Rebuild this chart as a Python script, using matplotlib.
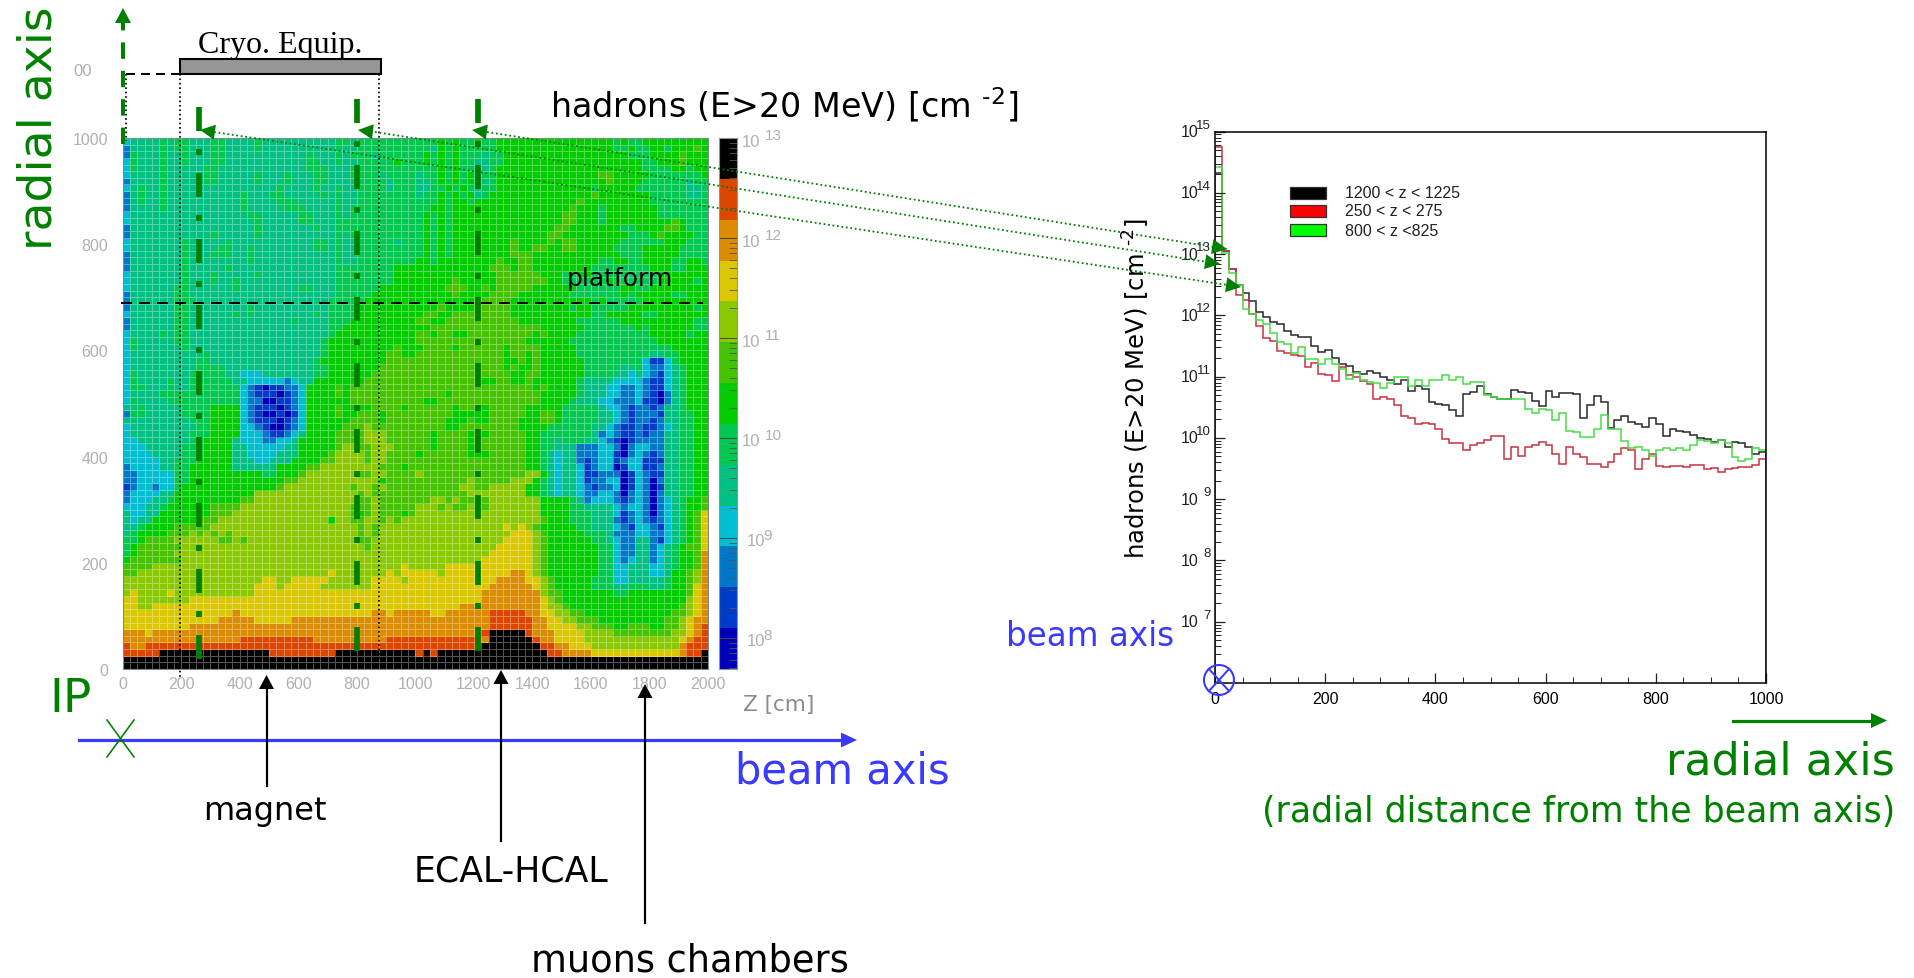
import numpy as np
import matplotlib
matplotlib.use("Agg")
import matplotlib.pyplot as plt
from matplotlib.colors import ListedColormap, BoundaryNorm
from matplotlib.lines import Line2D
from matplotlib.patches import Polygon, Rectangle, Circle
from matplotlib.ticker import FixedLocator, LogLocator, NullFormatter

W, H = 1914, 979
SANS = "Liberation Sans"
HAND = "DejaVu Sans"
GREEN = "#008000"
BLUE = "#3a3aff"
GREY = "#b0b0b0"

# colour bands of the map, lowest flux first (hex digit in the rows below)
band_colors = ["#0000b8", "#003cc8", "#0078c8", "#00bed2", "#00c084", "#00c850",
               "#00cc00", "#46c300", "#8cc800", "#dcc800", "#dc8c00", "#dc4600", "#000000"]

# hadron flux map, top row is r=1000, one digit per 25 cm cell in z
flux_rows = [
    "3444454554 4455444454 4444444445 5455555555 5556565565 5666666666 6666666565 5666666666",
    "2444454554 4455444454 4444444445 4455555555 5546565555 5666666666 6666666556 5566566676",
    "2544454454 4455444444 4444454445 4555455555 5656565554 5566666666 6666666665 5566667666",
    "3544454454 4455444444 4444455445 4455555655 5656565544 5566666666 6666666666 6556667666",
    "3544454444 4554444444 4444455544 4555555555 5556565544 5666666666 6666666666 6555566566",
    "3444454444 4554444454 4454445544 4555545555 4556565645 5666666666 6666677666 6655555556",
    "2444454444 4554444454 4454445544 4455554555 4456565644 5666666666 6666667666 6555555455",
    "3454454444 4444444444 4544445445 4455554555 4455656545 5666666666 6666566666 5555555445",
    "2454454444 4444445444 5544444545 4455555555 4556565645 6666666666 6666766666 6655555445",
    "2454454444 4444445444 4555444445 4455555555 5556566566 6666666666 6676666666 6655555555",
    "2444454444 4444445444 4455544445 4555555555 5566566666 6666666666 6766656666 6665555555",
    "3444444444 4444444554 4444554445 4555555555 5656566666 6666666666 7766656666 6665555555",
    "3444444444 4444444454 4444554445 5555555555 5656566666 6666666666 7766656666 6666676555",
    "2444444444 4444444454 4444445445 5555555555 5656566666 6666666667 7666666655 6666776555",
    "2444444444 4454444454 4444444445 4555555555 5656566666 6666666677 6666666665 5567666655",
    "3444444454 4444544444 4444445545 4455555455 5656566666 6667666676 7766666655 5555666555",
    "3444444454 4445544544 4444445545 4455555555 5656566666 6667667766 7766666555 5666665555",
    "2444444454 4455544544 4444444445 4455555555 5656566666 6667776666 6666666655 5666665555",
    "2444444454 4444444544 4444444445 4455555555 6656666666 6766776666 6666655665 5666655665",
    "2444444454 4444544444 4444444445 5555555666 6666666666 7776776666 6666555555 5566655666",
    "3444444454 4454444454 4444444445 5555555666 6666666666 6777777666 5566555555 5556666666",
    "3444444454 4454454444 4444444445 5555555666 6666676666 6777777766 5555556555 5556666656",
    "3444444554 4444454444 4444554445 5555566666 6666777667 6777776666 6655555566 5566666666",
    "2444444554 4444444444 4444444445 5555666666 6666676666 7777666666 6555555565 6666655666",
    "2444444555 4444444444 4444444455 5556666666 6666666677 7776666666 6666565555 5666666666",
    "2444444554 4444444544 4444444455 5566666666 6667666677 7776666666 6566555556 6666666656",
    "3444444554 4444454544 4444445455 5566666666 6776677777 7776666666 6666556666 6556666666",
    "2444444554 4444444444 4445444455 5666666666 7766777777 7777666666 6655555566 6666666655",
    "2444444554 4444444444 4444444455 6666666666 6677777777 7777777666 6665555555 6566666655",
    "3444454554 4444444444 4444444456 6666666666 7767766777 7777776766 6655555555 5566666566",
    "3544444554 4444444444 4444444566 6666666666 7777777777 7777766666 6555555555 5556666666",
    "3544444454 4444444444 4444444566 6666666766 6777767777 7767777666 6655555555 5555566666",
    "3444444444 4544444444 4444444566 6666667766 7777777777 7767767666 6655555555 5544556666",
    "3444444444 5544444444 4444445666 6666667777 7777777777 7766767666 6665555555 5311356666",
    "3444444444 5555444444 4444445566 6666677777 7777777777 7767667666 6665555544 5322345666",
    "3544444445 5555443334 4444445566 6666777777 7777777777 7776677666 6665555443 4321345666",
    "3544445445 5555544333 3323446666 6667777777 7777777776 6776676666 6654444333 3211345666",
    "3554445445 5555553210 1122366667 6777777777 7777777777 7777776766 6654443322 3211345666",
    "3444455555 5555553211 1012366667 6777777777 7777677777 7777777666 6654443322 3210245666",
    "3544445555 5555553220 0112366666 6777777777 7667777777 7777777666 6544433222 3110245666",
    "4454444455 5566663211 1012366667 6666777767 7777767776 7777766666 5555543321 2212445666",
    "2554444455 5566663210 0101366667 6677767777 7777766666 7777766776 5555544321 2221445566",
    "4444444445 5566663211 1012366666 6777767777 7777666766 7777666776 5555544321 2212445566",
    "3444444444 5566663321 0012366666 7778777777 7777667777 7777666655 5555443211 2112345566",
    "3444444445 5566663332 1123466667 7778887777 7767777676 7777766555 5555423211 2122445566",
    "3344444445 5666643332 2334666667 7778887777 7767777677 7777766554 5554432101 2222445566",
    "3334444455 5666644333 3344666667 8877888777 7767777667 7777766554 4422233202 3322445566",
    "3333444455 5666644333 3444666678 8887887777 6777777666 7777766543 4422233102 3212445566",
    "3333344555 6666644433 4446666778 8887887777 7777777777 7777766543 4421233123 3111445566",
    "2333344556 6666644444 4666677888 8888877767 7777777777 7777766543 4431233013 3112445566",
    "2233333556 6666666665 5666788888 8877887777 8777777777 7777788643 4431122201 3211445566",
    "2233333556 6666666666 6677888888 8888867777 7777777877 7778886543 4431223301 3202445566",
    "1233233566 6666666666 6788888888 8788787777 7777778877 8888866543 4432122301 3201445566",
    "2333344666 6666666688 8888888888 8878777777 7777777888 8888866543 4432233202 3202445566",
    "2333445666 6666667788 8888888888 8877877777 7788787777 8888888666 6542333212 3202345667",
    "3334456666 6677778888 8888888888 8777877777 8887877877 8888888666 6554444323 3202345667",
    "4334466666 6677788888 8888888888 8767877767 8888888878 8888888666 6555444312 3202345679",
    "4344666666 7778888888 8888888868 8778878788 8888888888 8888888766 6555444212 3212345679",
    "4456666777 7788888888 8888888888 8878788888 8888888888 8898987666 6655444321 3321345679",
    "4566667778 7878788888 8888888888 8878788888 8888888888 8889998766 6665554222 3322345679",
    "5567777888 8887787888 8888888888 8877888888 8888888888 8899998766 6666554322 4421345679",
    "5677777788 8888888888 8888888888 8887888888 8888888888 8999998766 6666655322 4423456779",
    "5677777888 8888888888 8888888888 8888888888 8888888888 9999998766 6666655322 442345667a",
    "6777777788 8888888888 8888888888 8888888888 8888888889 9999998766 6666655323 442345667a",
    "7777888888 8888888888 8888888888 8888888898 8888999999 9999998766 6666655334 443345667a",
    "7788888888 8888888888 8888888898 8888889899 9998999999 999aa98766 6666655334 443346678a",
    "8888888888 8888888889 9889999988 8888999989 9999999999 9aaaa99876 6666555334 444456678a",
    "8888888888 8888888899 9899999888 8888999999 9999999999 aaaaaa9876 6666555445 554456679a",
    "8988889888 8888888899 9999999999 9999999999 999999999a aaaaaaa877 6666666556 666666679a",
    "9988888889 9999999999 9999999999 9999999999 999999999a aaaaaaa987 6666666666 666666689a",
    "9988999999 9999999999 9999999999 9999999999 999999aaaa aaaaaaa988 7666666666 666666789a",
    "9999999999 99999a9999 9999999999 9999aa9aaa aa99aaaaaa bbbbbaa998 8776666666 666667789a",
    "9999999999 999aaaaa99 999aaaaaaa aaaaaaaaaa aaaaaaaaaa bbbbbbaa99 8877766666 66667789aa",
    "999999999a aaaaaaaaaa aaaaaaaaaa aaaaaaaaaa aaaaaaaaaa bbbbbbaa99 9988777667 77667789ab",
    "aaa9aaaaaa aaaaaaaaaa aaaaaaaaaa aaaaaaaaaa aaaaaaaaab cccccbaaa9 9998888777 77777889ab",
    "aaaaaaaaaa aaaaaabbbb bbbbbbaaaa aaaaaabbbb bbbbbbbbba ccccccbaa9 9998888888 8888889abb",
    "baabbbbbbb bbbbbbbbbb bbbbbbbbbb bbbbbbbbbb bbbbbbbbbc cccccccbba a999888888 888888abbb",
    "bbbbbccccc cccccccccc bbbbbbbbbc cccccccccc bcbccccccc ccccccccbb aaaa999999 999999abbc",
    "cccccccccc cccccccccc cccccccccc cccccccccc cccccccccc cccccccccc cccccccccc cccccccccc",
    "cccccccccc cccccccccc cccccccccc cccccccccc cccccccccc cccccccccc cccccccccc cccccccccc",
]

# log10 of the flux in each 12.5 cm radial bin
black_log = [14.33, 13.05, 12.75, 12.50, 12.36, 12.24, 12.06, 11.98, 11.89, 11.86,
             11.75, 11.68, 11.64, 11.64, 11.50, 11.41, 11.43, 11.30, 11.20, 11.17,
             11.07, 11.05, 11.10, 11.06, 11.00, 10.95, 10.88, 10.95, 10.76, 10.84,
             10.80, 10.59, 10.56, 10.53, 10.45, 10.36, 10.71, 10.75, 10.85, 10.71,
             10.67, 10.64, 10.63, 10.79, 10.75, 10.74, 10.61, 10.52, 10.76, 10.66,
             10.74, 10.74, 10.71, 10.33, 10.53, 10.68, 10.59, 10.17, 10.29, 10.35,
             10.26, 10.23, 10.18, 10.33, 10.23, 10.03, 10.15, 10.11, 10.10, 10.04,
             10.00, 9.99, 9.93, 9.97, 9.85, 9.93, 9.92, 9.86, 9.74, 9.77]
red_log = [14.75, 13.05, 12.75, 12.33, 12.25, 12.02, 11.83, 11.63, 11.59, 11.42,
           11.38, 11.35, 11.33, 11.16, 11.22, 11.04, 11.03, 10.93, 11.16, 11.02,
           11.00, 10.93, 10.88, 10.64, 10.66, 10.64, 10.53, 10.36, 10.33, 10.22,
           10.25, 10.22, 10.15, 9.99, 9.91, 9.91, 9.81, 9.88, 9.91, 9.96,
           10.03, 10.03, 9.66, 9.86, 9.71, 9.86, 9.89, 9.93, 9.88, 9.74,
           9.58, 9.86, 9.73, 9.69, 9.58, 9.58, 9.53, 9.61, 9.73, 9.84,
           9.80, 9.50, 9.66, 9.74, 9.54, 9.53, 9.54, 9.54, 9.53, 9.56,
           9.56, 9.50, 9.51, 9.44, 9.50, 9.51, 9.53, 9.53, 9.56, 9.65]
green_log = [14.43, 13.02, 12.70, 12.50, 12.10, 12.02, 11.93, 11.86, 11.71, 11.56,
             11.54, 11.38, 11.48, 11.29, 11.29, 11.20, 11.29, 11.20, 11.13, 10.97,
             11.06, 10.95, 10.91, 10.90, 10.82, 10.90, 11.00, 11.00, 10.85, 10.94,
             10.85, 10.94, 10.95, 11.03, 10.95, 10.99, 10.88, 10.91, 10.92, 10.70,
             10.67, 10.64, 10.63, 10.63, 10.63, 10.48, 10.40, 10.48, 10.45, 10.30,
             10.40, 10.11, 10.10, 10.02, 10.02, 10.15, 10.38, 10.15, 10.15, 9.95,
             9.83, 9.85, 9.80, 9.71, 9.80, 9.83, 9.80, 9.84, 9.80, 9.88,
             9.97, 9.95, 9.91, 9.96, 9.91, 9.69, 9.62, 9.66, 9.83, 9.81]

legend_labels = ["1200 < z < 1225", "250 < z < 275", "800 < z <825"]
legend_colors = ["#000000", "#ff0000", "#00ff00"]
z_ticks = list(range(0, 2001, 200))
r_ticks = list(range(0, 1001, 200))
cb_exps = [13, 12, 11, 10, 9, 8]
flux_exps = [15, 14, 13, 12, 11, 10, 9, 8, 7]
radial_ticks = list(range(0, 1001, 200))


def px_axes(left, top, right, bottom, **kw):
    return fig.add_axes([left / W, 1 - bottom / H, (right - left) / W, (bottom - top) / H], **kw)


def arrow_head(tip, tail, length=16, width=15, color=GREEN):
    tip = np.array(tip, float)
    d = tip - np.array(tail, float)
    d = d / np.hypot(*d)
    n = np.array([-d[1], d[0]])
    base = tip - d * length
    ov.add_patch(Polygon([tip, base + n * width / 2, base - n * width / 2], closed=True,
                         fc=color, ec="none", zorder=5))


def px_line(xs, ys, color="k", lw_px=2, **kw):
    ov.add_line(Line2D(xs, ys, color=color, lw=lw_px * 0.72, **kw))


fig = plt.figure(figsize=(W / 100, H / 100), dpi=100, facecolor="white")

# left map
grid = np.array([[int(c, 16) for c in "".join(row.split())] for row in flux_rows])[::-1]
z_edges = np.linspace(0, 2000, grid.shape[1] + 1)
r_edges = np.linspace(0, 1000, grid.shape[0] + 1)
cmap = ListedColormap(band_colors)
norm = BoundaryNorm(np.arange(len(band_colors) + 1) - 0.5, cmap.N)

ax = px_axes(122.7, 139, 708, 670)
ax.pcolormesh(z_edges, r_edges, grid, cmap=cmap, norm=norm, edgecolors=(1, 1, 1, 0.33), linewidth=0.6)
ax.set_xlim(0, 2000)
ax.set_ylim(0, 1000)
ax.set_xticks(z_ticks)
ax.set_yticks(r_ticks)
ax.tick_params(axis="x", length=0, pad=5, labelsize=11.5, labelcolor=GREY)
ax.tick_params(axis="y", length=0, pad=10.5, labelsize=11.5, labelcolor=GREY)
for lab in ax.get_xticklabels() + ax.get_yticklabels():
    lab.set_fontfamily(SANS)
for s in ax.spines.values():
    s.set_color("#808c8c")

# colour bar, each decade is 100 px
cax = px_axes(719, 139, 737, 670)
cb_low = 13 - (670 - 139) / 100
cb_edges = 10 ** np.linspace(cb_low, 13, len(band_colors) + 1)
cax.pcolormesh([0, 1], cb_edges, np.arange(len(band_colors)).reshape(-1, 1), cmap=cmap, norm=norm)
cax.set_yscale("log")
cax.set_ylim(10 ** cb_low, 1e13)
cax.set_xticks([])
cax.yaxis.tick_right()
cax.yaxis.set_major_locator(FixedLocator([10.0 ** e for e in cb_exps]))
cax.yaxis.set_minor_locator(LogLocator(base=10, subs=range(2, 10), numticks=12))
cax.yaxis.set_major_formatter(NullFormatter())
cax.yaxis.set_minor_formatter(NullFormatter())
cax.tick_params(axis="y", which="major", direction="in", length=13, width=0.7, color="#444444")
cax.tick_params(axis="y", which="minor", direction="in", length=6, width=0.6, color="#555555")
for s in cax.spines.values():
    s.set_color("#8c96a0")
for e in cb_exps:
    wide = e > 9
    cax.annotate("10", (1, 10.0 ** e), xycoords=cax.get_yaxis_transform(), xytext=(5 if wide else 10, -3),
                 textcoords="offset pixels", va="center", ha="left", fontsize=12, color=GREY, family=SANS)
    cax.annotate(str(e), (1, 10.0 ** e), xycoords=cax.get_yaxis_transform(), xytext=(28 if wide else 26, 3),
                 textcoords="offset pixels", va="center", ha="left", fontsize=11, color=GREY, family=SANS)

# right histogram, 12.5 cm bins
hax = px_axes(1215, 132.6, 1766, 684)
r_bins = np.linspace(0, 1000, len(black_log) + 1)
for vals, col in [(black_log, "#282828"), (red_log, "#c83240"), (green_log, "#46dc46")]:
    hax.stairs(10 ** np.array(vals), r_bins, baseline=1e6, color=col, lw=1.1)
hax.set_yscale("log")
hax.set_xlim(0, 1000)
hax.set_ylim(1e6, 1e15)
hax.set_xticks(radial_ticks)
hax.xaxis.set_minor_locator(FixedLocator(np.arange(0, 1001, 50)))
hax.yaxis.set_major_locator(FixedLocator([10.0 ** e for e in flux_exps]))
hax.yaxis.set_minor_locator(LogLocator(base=10, subs=range(2, 10), numticks=12))
hax.yaxis.set_major_formatter(NullFormatter())
hax.yaxis.set_minor_formatter(NullFormatter())
hax.tick_params(which="major", direction="in", length=7.5, width=0.9, color="#222222")
hax.tick_params(which="minor", direction="in", length=4, width=0.7, color="#222222")
hax.tick_params(axis="x", which="major", pad=6, labelsize=11.5)
for lab in hax.get_xticklabels():
    lab.set_fontfamily(SANS)
for s in hax.spines.values():
    s.set_linewidth(1.1)
for e in flux_exps:
    hax.annotate("10", (0, 10.0 ** e), xycoords=hax.get_yaxis_transform(), xytext=(-17, 0),
                 textcoords="offset pixels", va="center", ha="right", fontsize=11.5, color="#222222", family=SANS)
    hax.annotate(str(e), (0, 10.0 ** e), xycoords=hax.get_yaxis_transform(), xytext=(-4, 7),
                 textcoords="offset pixels", va="center", ha="right", fontsize=9.5, color="#222222", family=SANS)

# overlay in picture pixels for the hand drawn notes
ov = fig.add_axes([0, 0, 1, 1], zorder=10)
ov.set_xlim(0, W)
ov.set_ylim(H, 0)
ov.axis("off")

# legend of the histogram
for y, lab, col in zip([188, 206, 225], legend_labels, legend_colors):
    ov.add_patch(Rectangle((1290, y), 35.5, 12, fc=col, ec="#333333", lw=0.9))
    ov.text(1345, y + 6, lab, fontsize=11.5, family=SANS, color="#222222", va="center", ha="left")

# cryostat equipment
ov.add_patch(Rectangle((180, 60), 201, 15, fc="#969696", ec="k", lw=1.5))
ov.text(280, 60, "Cryo. Equip.", family="Liberation Serif", fontsize=23, ha="center", va="bottom", color="k")
ov.text(73, 72, "00", family=SANS, fontsize=12, color=GREY, va="center", ha="left")
px_line([126, 180], [75, 75], lw_px=2, linestyle=(0, (4.5, 3)))
for x, y0, y1 in [(126, 75, 142), (180, 75, 678), (379, 75, 660)]:
    px_line([x, x], [y0, y1], lw_px=1.7, linestyle=(0, (1, 1.6)))

# platform
px_line([121, 703], [304, 304], lw_px=2, linestyle=(0, (5.5, 3.5)))
ov.text(620, 279, "platform", family=HAND, fontsize=18, ha="center", va="center", color="k")

# radial axis arrow
px_line([123, 123], [145, 24], color=GREEN, lw_px=4, linestyle=(0, (4.1, 3.0)))
arrow_head((123, 9), (123, 30), length=15, width=16)
ov.text(39, 128, "radial axis", family=HAND, fontsize=34, color=GREEN, rotation=90, ha="center", va="center")

# scan positions and the arrows to the histogram, dashes are in line widths
for x, y0, y1 in [(199, 108, 660), (357, 100, 652), (478, 100, 652)]:
    # 24 long, 18 gap, 6 dot, 18 gap
    px_line([x, x], [y0, y1], color=GREEN, lw_px=5.7,
            linestyle=(0, (24 / 5.7, 18 / 5.7, 6 / 5.7, 18 / 5.7)))
for start, end, tip in [((214, 133), (1241, 288), (200, 131)),
                        ((375, 133), (1220, 265), (358, 131)),
                        ((487, 133), (1227, 250), (472, 131))]:
    px_line([start[0], end[0]], [start[1], end[1]], color=GREEN, lw_px=1.8, linestyle=(0, (1, 1.5)))
    arrow_head(end, start, length=15, width=15)
    arrow_head(tip, start, length=15, width=15)

# titles
flux_title = r"hadrons (E>20 MeV) [cm $^{\text{-}2}$]"
ov.text(784, 105, flux_title, family=HAND, fontsize=24, ha="center", va="center", color="k")
ov.text(1136, 389, flux_title, family=HAND, fontsize=17.5, rotation=90, ha="center", va="center", color="k")
ov.text(779, 705, "Z [cm]", family=HAND, fontsize=15.5, ha="center", va="center", color="#8c8c8c")

# beam axis below the map
px_line([79, 845], [741, 741], color=BLUE, lw_px=3.2)
arrow_head((857, 741), (79, 741), length=16, width=15, color=BLUE)
ov.text(842, 772, "beam axis", family=HAND, fontsize=30, color=BLUE, ha="center", va="center")
ov.text(71, 700, "IP", family=HAND, fontsize=34, color=GREEN, ha="center", va="center")
px_line([107, 134], [721, 758], color=GREEN, lw_px=1.6)
px_line([134, 107], [721, 758], color=GREEN, lw_px=1.6)

# detector notes
for x, tip, y1 in [(266.5, 676, 787), (501, 671, 842), (645, 685, 924)]:
    px_line([x, x], [tip + 10, y1], lw_px=2.2)
    arrow_head((x, tip), (x, y1), length=14, width=15, color="k")
ov.text(265, 812, "magnet", family=HAND, fontsize=23, ha="center", va="center", color="k")
ov.text(511, 872, "ECAL-HCAL", family=HAND, fontsize=25, ha="center", va="center", color="k")
ov.text(690, 961, "muons chambers", family=HAND, fontsize=26.5, ha="center", va="center", color="k")

# beam axis seen end on
ov.text(1090, 637, "beam axis", family=HAND, fontsize=23.5, color=BLUE, ha="center", va="center")
ov.add_patch(Circle((1219, 681), 15, fc="none", ec=BLUE, lw=1.5))
px_line([1209, 1229], [670, 692], color=BLUE, lw_px=2)
px_line([1229, 1209], [670, 692], color=BLUE, lw_px=2)

# radial axis under the histogram
px_line([1733, 1875], [721.5, 721.5], color=GREEN, lw_px=3.2)
arrow_head((1887, 721.5), (1733, 721.5), length=16, width=15)
ov.text(1780, 762, "radial axis", family=HAND, fontsize=32, color=GREEN, ha="center", va="center")
ov.text(1579, 812, "(radial distance from the beam axis)", family=HAND, fontsize=25, color=GREEN,
        ha="center", va="center")

fig.savefig("out.png", dpi=100, facecolor="white")
